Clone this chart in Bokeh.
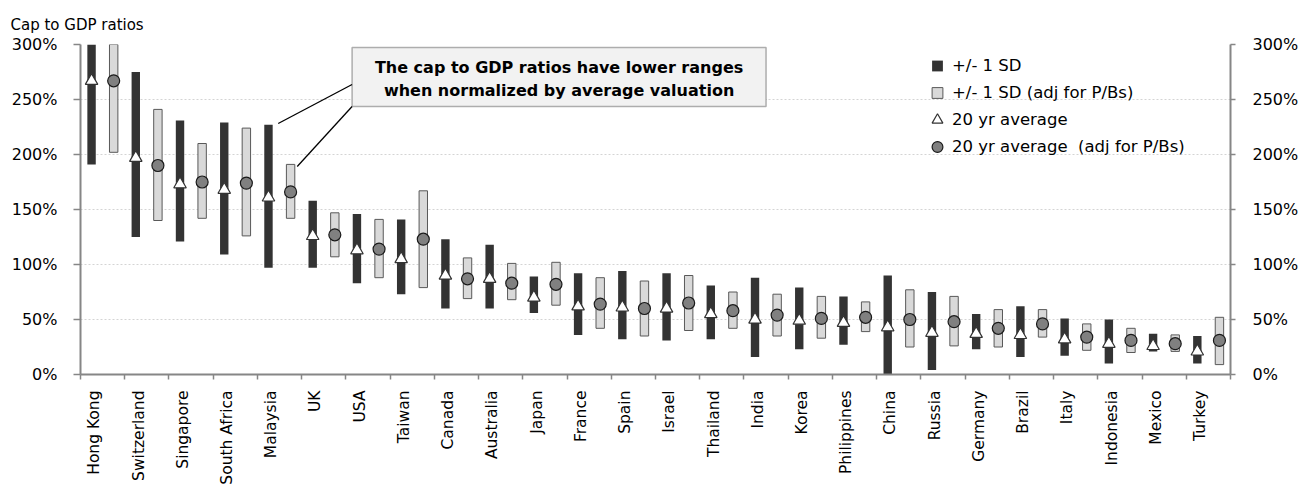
import numpy as np
from bokeh.plotting import figure
from bokeh.models import (ColumnDataSource, Range1d, FixedTicker,
                          PrintfTickFormatter, LinearAxis, Legend, LegendItem,
                          BoxAnnotation, Label, Arrow)
from bokeh.transform import dodge
from bokeh.embed import file_html
from bokeh.resources import INLINE

# ---------------- data ----------------
countries = ["Hong Kong", "Switzerland", "Singapore", "South Africa", "Malaysia", "UK",
             "USA", "Taiwan", "Canada", "Australia", "Japan", "France", "Spain", "Israel",
             "Thailand", "India", "Korea", "Philippines", "China", "Russia", "Germany",
             "Brazil", "Italy", "Indonesia", "Mexico", "Turkey"]

sd_low = [191, 125, 121, 109, 97, 97, 83, 73, 60, 60, 56, 36, 32, 31, 32, 16, 23, 27,
          -4, 4, 23, 16, 17, 10, 21, 10]
sd_high = [345, 275, 231, 229, 227, 158, 146, 141, 123, 118, 89, 92, 94, 92, 81, 88, 79,
           71, 90, 75, 55, 62, 51, 50, 37, 35]
avg20 = [267, 197, 173, 168, 161, 126, 113, 105, 90, 87, 70, 62, 61, 60, 55, 50, 49, 47,
         43, 38, 37, 36, 32, 28, 26, 21]

adj_low = [202, 140, 142, 126, 142, 107, 88, 79, 69, 68, 63, 42, 35, 40, 42, 35, 33, 39,
           25, 26, 25, 34, 22, 20, 21, 9]
adj_high = [332, 241, 210, 224, 191, 147, 141, 167, 106, 101, 102, 88, 85, 90, 75, 73, 71,
            66, 77, 71, 59, 59, 46, 42, 36, 52]
adj_avg = [267, 190, 175, 174, 166, 127, 114, 123, 87, 83, 82, 64, 60, 65, 58, 54, 51, 52,
           50, 48, 42, 46, 34, 31, 28, 31]

y_ticks = [0, 50, 100, 150, 200, 250, 300]

legend_labels = ["+/- 1 SD", "+/- 1 SD (adj for P/Bs)", "20 yr average",
                 "20 yr average  (adj for P/Bs)"]

title_text = "Cap to GDP  ratios"
note_lines = ["The cap to GDP ratios have lower ranges",
              "when normalized by average valuation"]

# ---------------- build ----------------
n = len(countries)
idx = np.arange(n)
src = ColumnDataSource(dict(
    xc=idx + 0.5, name=countries,
    sd_low=sd_low, sd_high=sd_high, avg=avg20,
    adj_low=adj_low, adj_high=adj_high, adj_avg=adj_avg,
))

FONT = "DejaVu Sans"
AX = "#868686"
DARK = "#333333"
LIGHT = "#d9d9d9"
LIGHT_EDGE = "#595959"

p = figure(width=1301, height=490, x_range=Range1d(0, n), y_range=Range1d(0, 300),
           output_backend="svg", toolbar_location=None,
           min_border_left=80, min_border_right=70, min_border_top=44,
           min_border_bottom=116, outline_line_color=None,
           background_fill_color="white", border_fill_color="white")

# title
p.title.text = title_text
p.title.align = "left"
p.title.offset = -70
p.title.standoff = 22
p.title.text_font = FONT
p.title.text_font_style = "normal"
p.title.text_font_size = "15px"
p.title.text_color = "#000000"

# bars
r_sd = p.vbar(x=dodge("xc", -0.25), width=0.19, bottom="sd_low", top="sd_high",
              source=src, fill_color=DARK, line_color=None)
r_adj = p.vbar(x=dodge("xc", 0.25), width=0.19, bottom="adj_low", top="adj_high",
               source=src, fill_color=LIGHT, line_color=LIGHT_EDGE, line_width=1)
# zero-size square keys (invisible on the plot) used only as legend swatches for the bars
k_sd = p.scatter(x=dodge("xc", -0.25), y="sd_low", source=src, marker="square", size=0,
                 fill_color=DARK, line_color=None)
k_adj = p.scatter(x=dodge("xc", 0.25), y="adj_low", source=src, marker="square", size=0,
                  fill_color=LIGHT, line_color=LIGHT_EDGE, line_width=1)
r_tri = p.scatter(x=dodge("xc", -0.25), y="avg", source=src, marker="triangle", size=12.5,
                  fill_color="white", line_color="#333333", line_width=1.2)
r_cir = p.scatter(x=dodge("xc", 0.25), y="adj_avg", source=src, marker="circle", size=12,
                  fill_color="#808080", line_color="#1a1a1a", line_width=1.2)

# x axis
label_pos = [float(i) + 0.3125 for i in idx]
p.xaxis.ticker = FixedTicker(ticks=label_pos, minor_ticks=[float(i) for i in range(n + 1)])
p.xaxis.major_label_overrides = {lp: c for lp, c in zip(label_pos, countries)}
p.xaxis.major_label_orientation = np.pi / 2
p.xaxis.major_tick_line_color = None
p.xaxis.major_tick_out = 0
p.xaxis.major_tick_in = 0
p.xaxis.minor_tick_line_color = AX
p.xaxis.minor_tick_line_width = 1.5
p.xaxis.minor_tick_out = 5
p.xaxis.minor_tick_in = 0
p.xaxis.axis_line_color = AX
p.xaxis.axis_line_width = 2
p.xaxis.major_label_standoff = 11
p.xaxis.major_label_text_font = FONT
p.xaxis.major_label_text_font_size = "15.5px"
p.xaxis.major_label_text_color = "#000000"

# y axes
fmt = PrintfTickFormatter(format="%d%%")
p.yaxis.ticker = FixedTicker(ticks=y_ticks)
p.yaxis.formatter = fmt
ra = LinearAxis(ticker=FixedTicker(ticks=y_ticks), formatter=fmt)
p.add_layout(ra, "right")
for ax, tout, stand in ((p.yaxis[0], 7, 16), (ra, 5, 17)):
    ax.axis_line_color = AX
    ax.axis_line_width = 2
    ax.major_tick_line_color = AX
    ax.major_tick_line_width = 1.5
    ax.major_tick_out = tout
    ax.major_tick_in = 0
    ax.minor_tick_line_color = None
    ax.major_label_standoff = stand
    ax.major_label_text_font = FONT
    ax.major_label_text_font_size = "16px"
    ax.major_label_text_color = "#000000"

p.xgrid.visible = False
p.ygrid.grid_line_color = "#d4d4d4"
p.ygrid.grid_line_dash = "2 2"
p.ygrid.grid_line_width = 1

# legend
leg = Legend(items=[LegendItem(label=legend_labels[0], renderers=[k_sd]),
                    LegendItem(label=legend_labels[1], renderers=[k_adj]),
                    LegendItem(label=legend_labels[2], renderers=[r_tri]),
                    LegendItem(label=legend_labels[3], renderers=[r_cir])],
             location=(842, 214), glyph_width=30, glyph_height=27, label_height=20,
             spacing=0, label_standoff=-5, padding=0, margin=0,
             border_line_color=None, background_fill_alpha=0,
             label_text_font=FONT, label_text_font_size="16.5px",
             label_text_color="#000000")
p.add_layout(leg)

# annotation callout
box_l, box_r, box_b, box_t = 6.14, 15.5, 243.6, 297.3
p.add_layout(BoxAnnotation(left=box_l, right=box_r, bottom=box_b, top=box_t,
                           fill_color="#f2f2f2", fill_alpha=1, line_color="#000000",
                           line_width=1.5, level="annotation"))
p.add_layout(Arrow(end=None, x_start=4.47, y_start=228.2, x_end=box_l, y_end=263.6,
                   line_color="#000000", line_width=1.3, level="annotation"))
p.add_layout(Arrow(end=None, x_start=4.90, y_start=189.1, x_end=box_l, y_end=box_b,
                   line_color="#000000", line_width=1.3, level="annotation"))
for txt, yy in zip(note_lines, (279.4, 258.2)):
    p.add_layout(Label(x=(box_l + box_r) / 2, y=yy, text=txt, text_align="center",
                       text_baseline="middle", text_font=FONT, text_font_style="bold",
                       text_font_size="16px", text_color="#000000", level="overlay"))

open("out.html", "w").write(file_html(p, INLINE))
